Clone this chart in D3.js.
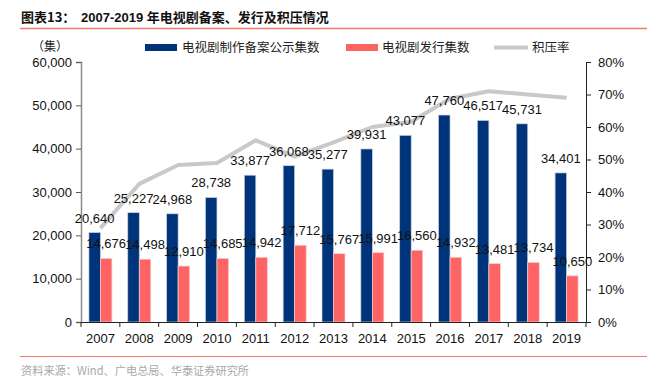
<!DOCTYPE html>
<html><head><meta charset="utf-8">
<script src="https://cdn.jsdelivr.net/npm/d3@7"></script>
<style>
body{margin:0;background:#fff;}
svg{display:block;}
</style></head>
<body>
<svg id="c" width="647" height="383"></svg>
<script>
const years = ["2007","2008","2009","2010","2011","2012","2013","2014","2015","2016","2017","2018","2019"];
const filed = [20640,25227,24968,28738,33877,36068,35277,39931,43077,47760,46517,45731,34401];
const released = [14676,14498,12910,14685,14942,17712,15767,15991,16560,14932,13481,13734,10650];
const backlog = [0.289,0.425,0.483,0.489,0.559,0.509,0.553,0.600,0.616,0.687,0.710,0.700,0.690];
const leftTicks = [0,10000,20000,30000,40000,50000,60000];
const rightTicks = [0,0.1,0.2,0.3,0.4,0.5,0.6,0.7,0.8];
const seriesNames = ["电视剧制作备案公示集数","电视剧发行集数","积压率"];

const NUM = "'Liberation Sans', Arial, sans-serif";
const CJK = "'Noto Sans CJK SC', sans-serif";
const BLUE = "#00347a", RED = "#ff6464", GRAY = "#c9c9c9";

const svg = d3.select("#c");
const L = 81, R = 586, T = 62, B = 322;

const x = d3.scaleBand().domain(years).range([L, R]);
const y = d3.scaleLinear().domain([0, 60000]).range([B, T]);
const y2 = d3.scaleLinear().domain([0, 0.8]).range([B, T]);
const bw = 11.5;

// title
svg.append("text").attr("x", 21).attr("y", 22)
  .attr("font-family", CJK).attr("font-size", 13).attr("font-weight", "bold").attr("fill", "#111")
  .text("图表13：");
svg.append("text").attr("x", 81).attr("y", 22)
  .attr("font-family", NUM + "," + CJK).attr("font-size", 13).attr("font-weight", "bold").attr("fill", "#111")
  .text("2007-2019 年电视剧备案、发行及积压情况");
svg.append("line").attr("x1", 20).attr("x2", 647).attr("y1", 28.5).attr("y2", 28.5)
  .attr("stroke", "#f07a6c").attr("stroke-width", 1.5);

// unit
svg.append("text").attr("x", 50).attr("y", 51).attr("text-anchor", "middle")
  .attr("font-family", CJK).attr("font-size", 12).attr("fill", "#222").text("（集）");

// legend
const lg = svg.append("g").attr("font-family", CJK).attr("font-size", 12.5).attr("fill", "#222");
lg.append("rect").attr("x", 145).attr("y", 44).attr("width", 32).attr("height", 7).attr("fill", BLUE);
lg.append("text").attr("x", 182).attr("y", 52).text(seriesNames[0]);
lg.append("rect").attr("x", 346).attr("y", 44).attr("width", 32).attr("height", 7).attr("fill", RED);
lg.append("text").attr("x", 382).attr("y", 52).text(seriesNames[1]);
lg.append("line").attr("x1", 494).attr("x2", 528).attr("y1", 47.5).attr("y2", 47.5).attr("stroke", GRAY).attr("stroke-width", 4);
lg.append("text").attr("x", 532).attr("y", 52).text(seriesNames[2]);

// left axis
const ax = svg.append("g").attr("transform", `translate(${L},0)`)
  .call(d3.axisLeft(y).tickValues(leftTicks).tickFormat(d3.format(",")).tickSize(5).tickPadding(4));
ax.select(".domain").attr("stroke", "#8a8a8a").attr("stroke-width", 1.5);
ax.selectAll(".tick line").attr("stroke", "#555");
ax.selectAll("text").attr("font-family", NUM).attr("font-size", 13).attr("fill", "#111");

// right axis
const ar = svg.append("g").attr("transform", `translate(${R},0)`)
  .call(d3.axisRight(y2).tickValues(rightTicks).tickFormat(d3.format(".0%")).tickSize(5).tickPadding(7));
ar.select(".domain").attr("stroke", "#222");
ar.selectAll(".tick line").attr("stroke", "#222");
ar.selectAll("text").attr("font-family", NUM).attr("font-size", 13).attr("fill", "#111");

// bars
svg.append("g").selectAll("rect").data(years).join("rect")
  .attr("x", d => x(d) + x.bandwidth()/2 - bw)
  .attr("y", (d,i) => y(filed[i]))
  .attr("width", bw).attr("height", (d,i) => B - y(filed[i]))
  .attr("fill", BLUE).attr("stroke", "#c9d1df").attr("stroke-width", 0.7);
svg.append("g").selectAll("rect").data(years).join("rect")
  .attr("x", d => x(d) + x.bandwidth()/2)
  .attr("y", (d,i) => y(released[i]))
  .attr("width", bw).attr("height", (d,i) => B - y(released[i]))
  .attr("fill", RED).attr("stroke", "#f6d0d0").attr("stroke-width", 0.7);

// bottom axis
const ab = svg.append("g").attr("transform", `translate(0,${B})`)
  .call(d3.axisBottom(x).tickSize(0).tickPadding(12));
ab.select(".domain").attr("stroke", "#222");
ab.selectAll("text").attr("font-family", NUM).attr("font-size", 13).attr("fill", "#111");
svg.append("g").selectAll("line").data(years.concat(["end"])).join("line")
  .attr("x1", (d,i) => L + i * x.step()).attr("x2", (d,i) => L + i * x.step())
  .attr("y1", B).attr("y2", B + 5).attr("stroke", "#222");

// line
svg.append("path").datum(backlog)
  .attr("d", d3.line().x((d,i) => x(years[i]) + x.bandwidth()/2).y(d => y2(d)))
  .attr("fill", "none").attr("stroke", GRAY).attr("stroke-width", 4).attr("stroke-linejoin", "round");

// labels
const fmt = d3.format(",");
svg.append("g").selectAll("text").data(years).join("text")
  .attr("x", d => x(d) + x.bandwidth()/2 - bw/2)
  .attr("y", (d,i) => y(filed[i]) - 10)
  .attr("text-anchor", "middle").attr("font-family", NUM).attr("font-size", 13).attr("fill", "#111")
  .text((d,i) => fmt(filed[i]));
svg.append("g").selectAll("text").data(years).join("text")
  .attr("x", d => x(d) + x.bandwidth()/2 + bw/2)
  .attr("y", (d,i) => y(released[i]) - 10)
  .attr("text-anchor", "middle").attr("font-family", NUM).attr("font-size", 13).attr("fill", "#111")
  .text((d,i) => fmt(released[i]));

// bottom rule and source
svg.append("line").attr("x1", 20).attr("x2", 647).attr("y1", 356.5).attr("y2", 356.5)
  .attr("stroke", "#f07a6c").attr("stroke-width", 1);
svg.append("text").attr("x", 21).attr("y", 375)
  .attr("font-family", CJK).attr("font-size", 11.2).attr("fill", "#a8a8a8")
  .text("资料来源：Wind、广电总局、华泰证券研究所");
</script>
</body></html>
